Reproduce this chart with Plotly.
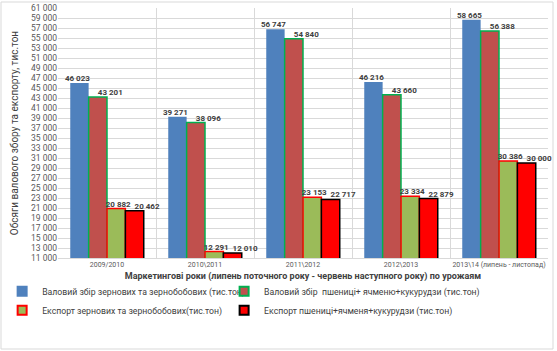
import plotly.graph_objects as go

categories = ["2009/2010", "2010\\2011", "2011\\2012", "2012\\2013", "2013\\14 (липень - листопад)"]
gross_all = [46023, 39271, 56747, 46216, 58665]
gross_wbc = [43201, 38096, 54840, 43660, 56388]
export_all = [20882, 12291, 23153, 23334, 30386]
export_wbc = [20462, 12010, 22717, 22879, 30000]

names = [
    "Валовий збір зернових та зернобобових (тис.тон)",
    "Валовий збір  пшениці+ ячменю+кукурудзи (тис.тон)",
    "Експорт зернових та зернобобових(тис.тон)",
    "Експорт пшениці+ячменя+кукурудзи (тис.тон)",
]
series = [gross_all, gross_wbc, export_all, export_wbc]
fills = ["#4F81BD", "#C0504D", "#9BBB59", "#FF0000"]
lines = ["#4F81BD", "#00B050", "#FF0000", "#000000"]
lwidth = [0, 1.5, 1.5, 1.5]
legends = ["legend", "legend2", "legend", "legend2"]
label_pos = ["top center", "top right", "top center", "top right"]
label_pad = [("", "\u2002"), ("", ""), ("\u2002", ""), ("", "")]

FONT = "Roboto, Open Sans, Arial"

fig = go.Figure()
for i, (n, s, f, l, w) in enumerate(zip(names, series, fills, lines, lwidth)):
    fig.add_trace(go.Bar(
        x=categories, y=s, name=n, showlegend=False,
        offsetgroup=str(i), alignmentgroup="a",
        marker=dict(color=f, line=dict(color=l, width=w)),
    ))
for i, s in enumerate(series):
    pre, post = label_pad[i]
    fig.add_trace(go.Scatter(
        x=categories, y=s, mode="text", showlegend=False,
        offsetgroup=str(i), alignmentgroup="a",
        text=[pre + f"{v:,}".replace(",", " ") + post for v in s],
        textposition=label_pos[i],
        textfont=dict(family=FONT, size=8, color="#404040", weight="bold"),
        cliponaxis=False, hoverinfo="skip",
    ))
for n, f, l, lg in zip(names, fills, lines, legends):
    fig.add_trace(go.Scatter(
        x=[None], y=[None], mode="markers", name=n, legend=lg,
        marker=dict(symbol="square", size=9, color=f,
                    line=dict(color=l, width=2)),
    ))

leg_common = dict(orientation="v", yanchor="top", y=-0.075, xanchor="left",
                  font=dict(family=FONT, size=8.7, color="#404040"),
                  bgcolor="rgba(0,0,0,0)", tracegroupgap=0, traceorder="normal")

fig.update_layout(
    width=557, height=351,
    margin=dict(l=58, r=9, t=8, b=93, autoexpand=False),
    paper_bgcolor="white", plot_bgcolor="white",
    barmode="group", bargap=0.25, bargroupgap=0,
    scattermode="group", scattergap=0.25,
    separators=", ",
    font=dict(family=FONT, color="#404040"),
    showlegend=True,
    legend=dict(x=-0.114, **leg_common),
    legend2=dict(x=0.339, **leg_common),
    xaxis=dict(
        type="category", tickson="boundaries", showgrid=True, gridcolor="#D9D9D9",
        ticks="", tickangle=0, tickfont=dict(size=7, color="#595959"),
        showline=True, linecolor="#D9D9D9",
        title=dict(text="<b>Маркетингові роки (липень поточного року - червень наступного року) по урожаям</b>",
                   font=dict(size=9, color="#404040"), standoff=4),
    ),
    yaxis=dict(
        range=[11000, 61000], dtick=2000, tick0=11000, tickformat=",d",
        showgrid=True, gridcolor="#D9D9D9", zeroline=False,
        tickfont=dict(size=8.5, color="#595959"), ticks="",
        title=dict(text="Обсяги валового збору та експорту, тис.тон",
                   font=dict(size=10, color="#404040"), standoff=10),
    ),
    shapes=[dict(type="rect", xref="paper", yref="paper",
                 x0=-57/490, x1=1+5/490, y0=-91/250, y1=1+6/250,
                 line=dict(color="#D9D9D9", width=1))],
)

fig.write_html("out.html")
